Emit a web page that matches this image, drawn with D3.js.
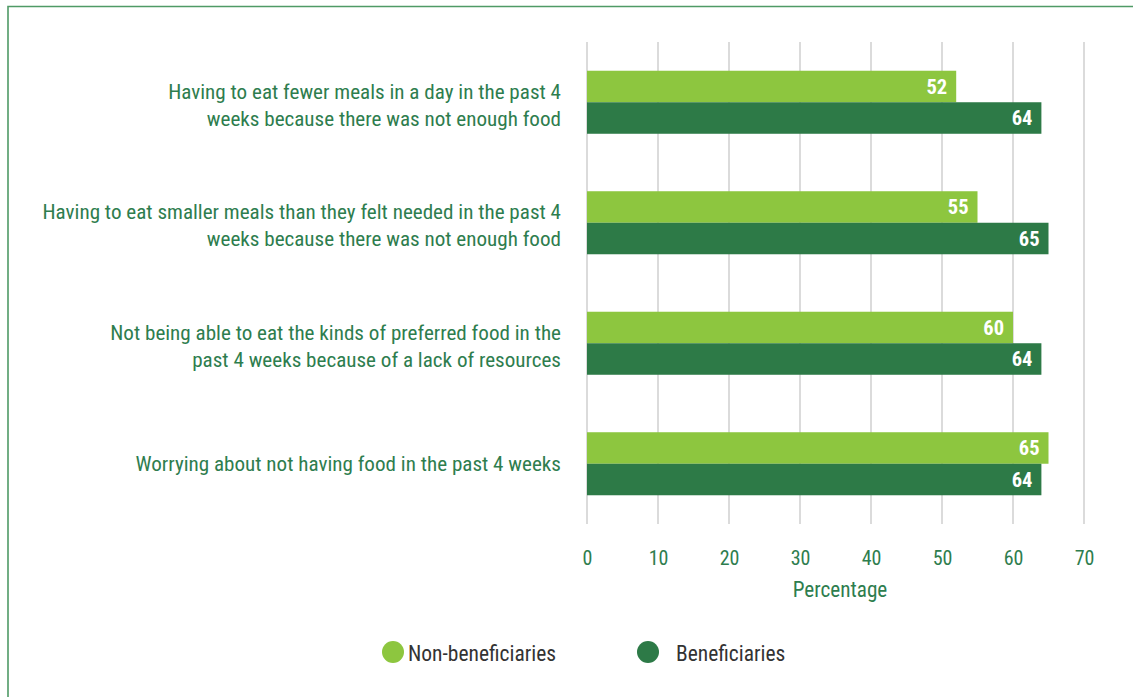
<!DOCTYPE html>
<html>
<head>
<meta charset="utf-8">
<script src="https://cdn.jsdelivr.net/npm/d3@7"></script>
<style>
  html, body { margin: 0; padding: 0; background: #fff; }
  svg { display: block; }
  text { font-family: "Roboto Condensed", Roboto, "Liberation Sans Narrow", sans-serif; }
</style>
</head>
<body>
<svg id="chart" width="1133" height="697"></svg>
<script>
// Food insecurity experiences, share of respondents by group
const categories = [
  ["Having to eat fewer meals in a day in the past 4", "weeks because there was not enough food"],
  ["Having to eat smaller meals than they felt needed in the past 4", "weeks because there was not enough food"],
  ["Not being able to eat the kinds of preferred food in the", "past 4 weeks because of a lack of resources"],
  ["Worrying about not having food in the past 4 weeks"]
];
const seriesNames = ["Non-beneficiaries", "Beneficiaries"];
const nonBeneficiaries = [52, 55, 60, 65];
const beneficiaries = [64, 65, 64, 64];
const xTicks = [0, 10, 20, 30, 40, 50, 60, 70];
const axisTitle = "Percentage";

const colors = { "Non-beneficiaries": "#8dc63f", "Beneficiaries": "#2d7a47" };
const textGreen = "#2e7d4e";

const svg = d3.select("#chart");

// Frame
svg.append("path")
  .attr("d", "M8,700 L8,6.5 L1140,6.5")
  .attr("fill", "none")
  .attr("stroke", "#4f9a66")
  .attr("stroke-width", 1.6);

const x = d3.scaleLinear().domain([0, 70]).range([587, 1084]);
const catIdx = categories.map((d, i) => i);
const y = d3.scaleBand().domain(catIdx).range([42, 524]).paddingInner(0.477).paddingOuter(0.2385);
const ySub = d3.scaleBand().domain(seriesNames).range([0, y.bandwidth()]);

// Gridlines
svg.append("g").selectAll("line")
  .data(xTicks)
  .join("line")
  .attr("x1", d => x(d)).attr("x2", d => x(d))
  .attr("y1", 42).attr("y2", 524)
  .attr("stroke", "#cfcfcf")
  .attr("stroke-width", 1.5);

// Axis tick labels
const axis = d3.axisBottom(x).tickValues(xTicks).tickSize(0).tickPadding(0);
const axisG = svg.append("g").attr("transform", "translate(0,551)").call(axis);
axisG.select(".domain").remove();
axisG.selectAll("text")
  .attr("dy", "0.71em")
  .attr("fill", textGreen)
  .style("font-size", "20px");

svg.append("text")
  .attr("x", 840).attr("y", 597)
  .attr("text-anchor", "middle")
  .attr("fill", textGreen)
  .style("font-size", "21.2px")
  .text(axisTitle);

// Bars
const rows = catIdx.map(i => ({
  i,
  values: [
    { name: seriesNames[0], v: nonBeneficiaries[i] },
    { name: seriesNames[1], v: beneficiaries[i] }
  ]
}));

const groups = svg.append("g").selectAll("g")
  .data(rows)
  .join("g")
  .attr("transform", d => `translate(0,${y(d.i)})`);

groups.selectAll("rect")
  .data(d => d.values)
  .join("rect")
  .attr("x", x(0))
  .attr("y", d => ySub(d.name))
  .attr("width", d => x(d.v) - x(0))
  .attr("height", ySub.bandwidth())
  .attr("fill", d => colors[d.name]);

groups.selectAll("text.val")
  .data(d => d.values)
  .join("text")
  .attr("class", "val")
  .attr("x", d => x(d.v) - 9)
  .attr("y", d => ySub(d.name) + ySub.bandwidth() / 2)
  .attr("dy", "0.36em")
  .attr("text-anchor", "end")
  .attr("fill", "#fff")
  .style("font-size", "20.5px")
  .style("font-weight", "700")
  .text(d => d.v);

// Category labels (multi-line blocks sit slightly below the band centre)
const labelX = 561;
const lineH = 27;
svg.append("g").selectAll("text")
  .data(rows)
  .join("text")
  .attr("text-anchor", "end")
  .attr("fill", textGreen)
  .style("font-size", "21.1px")
  .each(function(d) {
    const lines = categories[d.i];
    const cy = y(d.i) + y.bandwidth() / 2 + (lines.length > 1 ? 2.5 : 0);
    const t = d3.select(this);
    lines.forEach((ln, k) => {
      t.append("tspan")
        .attr("x", labelX)
        .attr("y", cy + (k - (lines.length - 1) / 2) * lineH)
        .attr("dy", "0.36em")
        .text(ln);
    });
  });

// Legend
const legend = [
  { name: seriesNames[0], cx: 393, tx: 408 },
  { name: seriesNames[1], cx: 648, tx: 676 }
];
const lg = svg.append("g");
lg.selectAll("circle")
  .data(legend)
  .join("circle")
  .attr("cx", d => d.cx).attr("cy", 652).attr("r", 11)
  .attr("fill", d => colors[d.name]);
lg.selectAll("text")
  .data(legend)
  .join("text")
  .attr("x", d => d.tx).attr("y", 653)
  .attr("dy", "0.36em")
  .attr("fill", "#333")
  .style("font-size", "21.5px")
  .text(d => d.name);
</script>
</body>
</html>
